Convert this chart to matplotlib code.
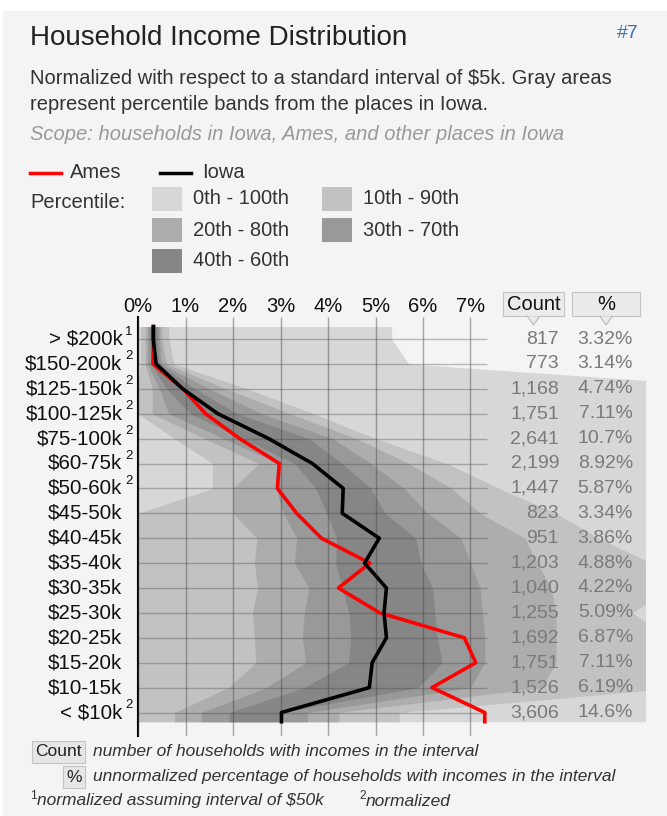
import numpy as np
import matplotlib.pyplot as plt
from matplotlib.patches import Rectangle, Polygon
from matplotlib.lines import Line2D
import matplotlib.transforms as mtransforms

plt.rcParams['font.family'] = ['Liberation Sans', 'DejaVu Sans']

W, H = 667, 816

# ---- data ----
rows = ['> $200k', '$150-200k', '$125-150k', '$100-125k', '$75-100k', '$60-75k',
        '$50-60k', '$45-50k', '$40-45k', '$35-40k', '$30-35k', '$25-30k',
        '$20-25k', '$15-20k', '$10-15k', '< $10k']
notes = ['1', '2', '2', '2', '2', '2', '2', '', '', '', '', '', '', '', '', '2']
# interval width in units of $5k (>$200k assumed $50k)
widths = [10, 10, 5, 5, 5, 3, 2, 1, 1, 1, 1, 1, 1, 1, 1, 2]
counts = [817, 773, 1168, 1751, 2641, 2199, 1447, 823, 951, 1203, 1040, 1255,
          1692, 1751, 1526, 3606]
pct = [3.32, 3.14, 4.74, 7.11, 10.7, 8.92, 5.87, 3.34, 3.86, 4.88, 4.22, 5.09,
       6.87, 7.11, 6.19, 14.6]
iowa = [0.32, 0.38, 0.94, 1.68, 2.75, 3.67, 4.32, 4.30, 5.08, 4.77, 5.23, 5.18,
        5.23, 4.93, 4.87, 3.02]

# percentile boundaries across places in Iowa (normalized %)
p0 = [0.0] * 16
p10 = [0.05, 0.05, 0.0, 0.0, 0.77, 1.57, 1.57, 0.0, 0.0, 0.0, 0.0, 0.0, 0.0, 0.0, 0.0, 0.0]
p20 = [0.15, 0.15, 0.3, 0.3, 1.4, 2.55, 1.99, 2.0, 2.5, 2.45, 2.52, 2.41, 2.45, 2.48, 1.9, 0.77]
p30 = [0.2, 0.2, 0.45, 0.65, 1.8, 2.97, 2.9, 3.06, 3.34, 3.29, 3.6, 3.5, 3.46, 3.53, 2.7, 1.33]
p40 = [0.25, 0.28, 0.6, 1.1, 2.2, 3.3, 3.74, 3.97, 4.18, 4.16, 4.3, 4.44, 4.48, 4.43, 3.5, 1.92]
p60 = [0.4, 0.45, 1.2, 2.1, 3.6, 4.3, 4.9, 5.2, 5.85, 5.95, 6.2, 6.25, 6.3, 6.4, 5.9, 3.0]
p70 = [0.45, 0.5, 1.5, 2.6, 4.1, 4.9, 5.6, 6.1, 6.8, 7.0, 7.2, 7.25, 7.3, 7.3, 7.0, 3.57]
p80 = [0.5, 0.6, 1.85, 3.2, 4.6, 5.7, 6.6, 7.2, 8.15, 8.4, 8.7, 8.8, 8.8, 8.8, 8.5, 4.23]
p90 = [0.65, 0.75, 2.3, 3.7, 5.0, 6.5, 7.6, 8.8, 9.7, 10.8, 11.2, 10.4, 11.2, 11.4, 11.4, 5.5]
p100 = [5.34, 5.7, 13.2, 14, 14, 14, 14, 14, 14, 14, 14, 14, 14, 14, 14, 14]

band_names = ['0th - 100th', '10th - 90th', '20th - 80th', '30th - 70th', '40th - 60th']
band_colors = ['#d7d7d7', '#c2c2c2', '#adadad', '#999999', '#868686']

ames = np.array(pct) / np.array(widths)


def fx(x):
    return x / W


def fy(y):
    return 1 - y / H


def ext(v):
    # repeat end values so bands and lines reach the top/bottom edges
    v = list(v)
    return [v[0]] + v + [v[-1]]


fig = plt.figure(figsize=(W / 100, H / 100), dpi=100, facecolor='white')
fig.patches.append(Rectangle((fx(3), 0), 1 - fx(3), fy(11), transform=fig.transFigure,
                             facecolor='#f4f4f4', edgecolor='none', zorder=-10))

# ---- header ----
fig.text(fx(30), fy(38), 'Household Income Distribution', fontsize=20, color='#222222', va='center')
fig.text(fx(639), fy(34), '#7', fontsize=14, color='#3a76b0', va='center', ha='right')
fig.text(fx(30), fy(78), 'Normalized with respect to a standard interval of $5k. Gray areas',
         fontsize=14.5, color='#333333', va='center')
fig.text(fx(30), fy(104), 'represent percentile bands from the places in Iowa.',
         fontsize=14.5, color='#333333', va='center')
fig.text(fx(30), fy(135), 'Scope: households in Iowa, Ames, and other places in Iowa',
         fontsize=14.5, color='#999999', va='center', style='italic')

# ---- legend ----
fig.add_artist(Line2D([fx(30), fx(61)], [fy(173)] * 2, color='red', lw=2.5, transform=fig.transFigure))
fig.text(fx(70), fy(172), 'Ames', fontsize=14.5, color='#333333', va='center')
fig.add_artist(Line2D([fx(160), fx(191)], [fy(173)] * 2, color='black', lw=2.5, transform=fig.transFigure))
fig.text(fx(202), fy(172), 'Iowa', fontsize=14.5, color='#333333', va='center')
fig.text(fx(30), fy(202), 'Percentile:', fontsize=14.5, color='#333333', va='center')
swatch_pos = [(152, 187), (322, 187), (152, 218), (322, 218), (152, 249)]
for (sx, sy), name, col in zip(swatch_pos, band_names, band_colors):
    fig.patches.append(Rectangle((fx(sx), fy(sy + 24)), 30 / W, 24 / H, transform=fig.transFigure,
                                 facecolor=col, edgecolor='none'))
    fig.text(fx(sx + 41), fy(sy + 12), name, fontsize=14.5, color='#333333', va='center')

# ---- chart ----
ax = fig.add_axes([fx(138), fy(736), 507 / W, (736 - 317) / H])
ax.patch.set_visible(False)
ax.set_xlim(0, 507 / 47.5)
ax.set_ylim((736 - 339) / 24.9, (317 - 339) / 24.9)

yb = [-0.5] + list(range(16)) + [15.37]
bounds = [(p0, p100), (p10, p90), (p20, p80), (p30, p70), (p40, p60)]
for (lo, hi), col in zip(bounds, band_colors):
    ax.fill_betweenx(yb, ext(lo), ext(hi), color=col, lw=0, zorder=1)

ylo, yhi = ax.get_ylim()
ax.vlines(range(8), yhi, ylo, color='#444444', alpha=0.45, lw=1, zorder=3)
ax.hlines(range(16), 0, 7.35, color='#444444', alpha=0.35, lw=1, zorder=3)

ax.plot(ext(ames), yb, color='#ff0000', lw=2.6, zorder=5)
ax.plot(ext(iowa), yb, color='black', lw=2.6, zorder=6)

for s in ['top', 'right', 'bottom']:
    ax.spines[s].set_visible(False)
ax.spines['left'].set_linewidth(1.5)
ax.spines['left'].set_color('black')
ax.set_yticks([])
ax.xaxis.tick_top()
ax.set_xticks(range(8))
ax.set_xticklabels([f'{i}%' for i in range(8)])
ax.tick_params(axis='x', length=0, pad=1, labelsize=14.5, labelcolor='#111111')

trans = mtransforms.blended_transform_factory(ax.transAxes, ax.transData)
for i, (lab, note) in enumerate(zip(rows, notes)):
    ax.text((122.5 - 138) / 507, i, lab, transform=trans, ha='right', va='center',
            fontsize=14.8, color='#111111')
    if note:
        ax.text((125 - 138) / 507, i - 0.3, note, transform=trans, ha='left', va='center',
                fontsize=9.5, color='#111111')
    ax.text((559 - 138) / 507, i, f'{counts[i]:,}', transform=trans, ha='right', va='center',
            fontsize=14, color='#7a7a7a', zorder=7)
    ax.text((633 - 138) / 507, i, f'{pct[i]:.3g}%', transform=trans, ha='right', va='center',
            fontsize=14, color='#7a7a7a', zorder=7)

# column header boxes with small pointers
for x0, x1, lab in [(503, 564, 'Count'), (572, 640, '%')]:
    fig.patches.append(Rectangle((fx(x0), fy(316)), (x1 - x0) / W, 24 / H, transform=fig.transFigure,
                                 facecolor='#ebebeb', edgecolor='#c4c4c4', lw=0.8))
    xc = (x0 + x1) / 2
    fig.patches.append(Polygon([(fx(xc - 6), fy(316.5)), (fx(xc), fy(325)), (fx(xc + 6), fy(316.5))],
                               closed=True, transform=fig.transFigure, facecolor='#ebebeb',
                               edgecolor='none'))
    fig.add_artist(Line2D([fx(xc - 6), fx(xc), fx(xc + 6)], [fy(316.5), fy(325), fy(316.5)],
                          color='#b8b8b8', lw=0.8, transform=fig.transFigure))
    fig.text(fx(xc), fy(304), lab, fontsize=14.5, color='#111111', ha='center', va='center')

# ---- footer ----
for x0, x1, y0, lab in [(32, 85, 741, 'Count'), (63, 85, 766, '%')]:
    fig.patches.append(Rectangle((fx(x0), fy(y0 + 22)), (x1 - x0) / W, 22 / H, transform=fig.transFigure,
                                 facecolor='#e6e6e6', edgecolor='#c4c4c4', lw=0.8))
    fig.text(fx((x0 + x1) / 2), fy(y0 + 11), lab, fontsize=12.5, color='#222222', ha='center', va='center')
fig.text(fx(93), fy(752), 'number of households with incomes in the interval',
         fontsize=12.5, color='#333333', va='center', style='italic')
fig.text(fx(93), fy(777), 'unnormalized percentage of households with incomes in the interval',
         fontsize=12.5, color='#333333', va='center', style='italic')
fig.text(fx(30), fy(796), '1', fontsize=8.5, color='#333333', va='center')
fig.text(fx(37), fy(801), 'normalized assuming interval of $50k', fontsize=12.5, color='#333333',
         va='center', style='italic')
fig.text(fx(359), fy(796), '2', fontsize=8.5, color='#333333', va='center')
fig.text(fx(366), fy(801), 'normalized', fontsize=12.5, color='#333333', va='center', style='italic')

fig.savefig('out.png', dpi=100, facecolor=fig.get_facecolor())
